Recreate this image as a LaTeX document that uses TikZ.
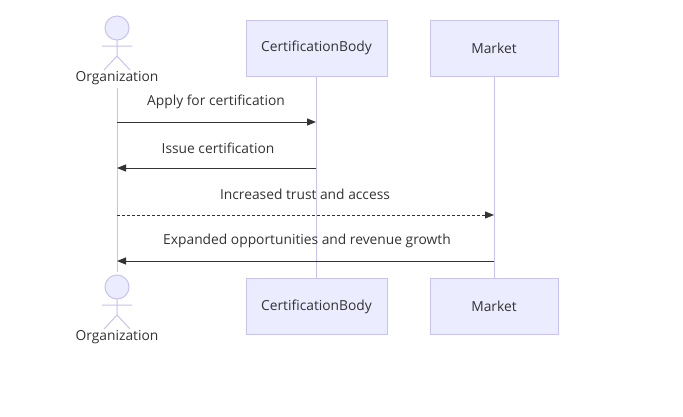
\documentclass[tikz,border=0pt]{standalone}
\usepackage{fontspec}
\setmainfont{Open Sans}
\usetikzlibrary{arrows.meta}
\definecolor{boxfill}{HTML}{ECECFF}
\definecolor{boxline}{HTML}{C9C3F0}
\definecolor{lifeline}{HTML}{C8C4EC}
\definecolor{txt}{HTML}{333333}
\begin{document}
\begin{tikzpicture}[x=1pt,y=-1pt,
  box/.style={draw=boxline,fill=boxfill,line width=0.8pt,minimum width=#1,minimum height=56pt,inner sep=0pt,text=txt,font=\fontsize{13.8}{16}\selectfont},
  lbl/.style={text=txt,font=\fontsize{13.8}{16}\selectfont,inner sep=0pt},
  life/.style={draw=lifeline,line width=1pt},
  msg/.style={draw=txt,line width=1pt,-{Triangle[length=9pt,width=7pt]}},
  actor/.style={draw=boxline,fill=boxfill,line width=1pt}]
\useasboundingbox (0,0) rectangle (683,416);
\fill[white] (0,0) rectangle (683,416);
% lifelines
\coordinate (ot) at (117,88); \coordinate (ob) at (117,272);
\node[box=141pt] (cb) at (316.5,48) {CertificationBody};
\node[box=141pt] (cbb) at (316.5,306.5) {CertificationBody};
\node[box=128pt] (mk) at (494,48) {Market};
\node[box=128pt] (mkb) at (494,306.5) {Market};
\draw[life] (ot) -- (ob);
\draw[life] (cb.south) -- (cbb.north);
\draw[life] (mk.south) -- (mkb.north);
% actors
\foreach \y/\n in {0/oa,259/ob2}{
 \begin{scope}[yshift=-\y pt]
  \draw[actor] (117,28) circle (12);
  \draw[actor] (117,40) -- (117,56) (102,46) -- (132,46) (117,56) -- (104,70) (117,56) -- (130,70);
 \end{scope}}
\node[lbl] (oal) at (117,78) {Organization};
\node[lbl] (obl) at (117,337) {Organization};
% messages
\coordinate (o1) at (117,122); \coordinate (c1) at (316,122);
\coordinate (o2) at (117,168); \coordinate (c2) at (316,168);
\coordinate (o3) at (117,215); \coordinate (m3) at (494,215);
\coordinate (o4) at (117,261); \coordinate (m4) at (494,261);
\draw[msg] (o1) -- (c1);
\node[lbl] (t1) at (216,102) {Apply for certification};
\draw[msg] (c2) -- (o2);
\node[lbl] (t2) at (218,148) {Issue certification};
\draw[msg,dash pattern=on 2.5pt off 2.5pt] (o3) -- (m3);
\node[lbl] (t3) at (305,194) {Increased trust and access};
\draw[msg] (m4) -- (o4);
\node[lbl] (t4) at (307,241) {Expanded opportunities and revenue growth};
\end{tikzpicture}
\end{document}
